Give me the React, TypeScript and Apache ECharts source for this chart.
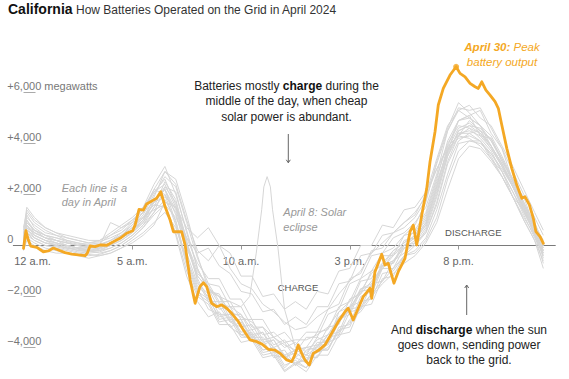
import React, { useEffect, useRef } from "react";
import * as echarts from "echarts";

const FONT = "'Liberation Sans', Arial, sans-serif";

// Axis ticks
const xTickHours = [0, 5, 10, 15, 20];
const xTickLabels = ["12 a.m.", "5 a.m.", "10 a.m.", "3 p.m.", "8 p.m."];
const yTickValues = [-4000, -2000, 0, 2000, 4000, 6000];
const yTickLabels = ["−4,000", "−2,000", "0", "+2,000", "+4,000", "+6,000 megawatts"];

// April 30 (highlighted)
const orangeHours = [
  0, 0.11, 0.22, 0.33, 0.61, 0.91, 1.14, 1.37, 1.6, 1.91,
  2.22, 2.52, 2.83, 2.93, 3.06, 3.29, 3.52, 3.83, 4.13, 4.44,
  4.74, 5.02, 5.13, 5.31, 5.51, 5.66, 5.97, 6.12, 6.31, 6.51,
  6.74, 6.89, 7.27, 7.43, 7.66, 7.89, 8.11, 8.27, 8.42, 8.65,
  8.88, 9.11, 9.34, 9.57, 9.88, 10.11, 10.41, 10.72, 10.95, 11.26,
  11.56, 11.79, 12.1, 12.33, 12.48, 12.63, 12.79, 12.94, 13.14, 13.32,
  13.55, 13.86, 14.17, 14.47, 14.78, 14.93, 15.16, 15.39, 15.62, 15.93,
  16.01, 16.16, 16.47, 16.62, 16.77, 17.03, 17.23, 17.54, 17.77, 17.92,
  18.08, 18.31, 18.54, 18.69, 18.92, 19.07, 19.3, 19.61, 19.89, 20.07,
  20.3, 20.53, 20.76, 20.91, 21.07, 21.26, 21.45, 21.68, 21.83, 21.99,
  22.22, 22.45, 22.68, 22.91, 23.06, 23.26, 23.44, 23.56, 23.75, 23.9,
];
const orangeValues = [
  -110, 580, 215, -20, -70, -245, -215, -100, -175, -280,
  -335, -370, -400, -305, -20, -45, 20, 10, 150, 280,
  480, 580, 800, 1420, 1390, 1630, 1780, 1850, 2110, 1520,
  1000, 540, 540, 20, -1350, -2265, -1615, -1460, -1615, -2265,
  -2400, -2330, -2460, -2660, -2990, -3310, -3700, -3770, -3860, -4070,
  -4100, -4230, -4490, -4555, -4290, -3900, -4230, -4490, -4685, -4230,
  -4120, -3900, -3440, -2990, -2595, -2460, -2920, -2460, -2005, -1680,
  -2070, -1025, -345, -765, -700, -1480, -1025, -500, 540, 800,
  20, 1195, 2240, 3285, 4460, 5510, 6160, 6685, 7010, 6750,
  6615, 6360, 6225, 6160, 6420, 6095, 5900, 5640, 5380, 4725,
  3810, 3025, 2370, 1850, 1910, 1590, 1065, 540, 345, 85,
];
const peakHour = 19.89;
const peakValue = 7010;

// Other April days (shared time grid)
const grayHours = [
  0, 0.15, 0.5, 1, 1.5, 2, 2.5, 3, 3.5, 4,
  4.5, 5, 5.5, 6, 6.5, 7, 7.5, 8, 8.5, 9,
  9.5, 10, 10.5, 11, 11.5, 12, 12.5, 13, 13.5, 14,
  14.5, 15, 15.5, 16, 16.5, 17, 17.5, 18, 18.5, 19,
  19.5, 20, 20.5, 21, 21.5, 22, 22.5, 23, 23.5, 23.9,
];
const dayA = [200, 1400, 1000, 700, 500, 300, 200, 100, 150, 300, 500, 900, 1500, 2400, 3100, 2000, 600, -900, -1800, -1900, -2700, -2700, -3500, -3400, -4200, -4100, -4700, -4300, -4400, -3600, -3500, -2600, -2500, -1500, -1400, -600, -300, 100, 700, 2000, 3700, 4900, 5100, 5300, 4400, 3800, 2500, 1900, 700, -200];
const dayB = [0, 500, 200, 0, -100, -200, -300, -350, -400, -300, -100, 200, 500, 900, 1300, 700, -500, -1600, -2000, -2900, -2800, -3500, -3400, -4100, -4000, -4700, -4500, -4800, -4100, -4100, -3300, -3200, -2200, -2100, -1100, -1000, -400, -200, 300, 1400, 2800, 4000, 4100, 4100, 3400, 2900, 1900, 1400, 400, -400];
const dayC = [300, 900, 600, 400, 200, 100, 0, -100, -50, 100, 300, 600, 1100, 1800, 2200, 1200, -100, -1100, -1500, -2200, -2200, -2900, -2900, -3700, -3600, -3900, -4100, -4000, -3400, -3300, -2400, -2200, -1300, -1000, -300, -100, 400, 800, 1700, 3300, 4600, 5600, 5200, 4700, 3900, 3100, 2300, 1500, 700, 0];
const dayD = [500, 1100, 800, 500, 400, 200, 100, 50, 100, 400, 700, 1000, 1300, 1700, 1900, 1500, 700, 300, 700, 0, -300, -1200, -1200, -2000, -1900, -2500, -2200, -2500, -1800, -1900, -1000, -900, 0, 0, 800, 700, 1400, 1500, 2100, 3000, 3900, 4300, 4200, 3900, 3400, 2700, 1900, 1100, 400, -300];
const dayE = [100, 700, 300, 100, 0, -100, -150, -200, -150, 0, 200, 500, 900, 1500, 2500, 1800, 200, -1400, -2200, -2200, -3000, -2900, -3600, -3600, -4000, -4400, -4200, -4500, -3800, -3800, -2900, -2700, -1800, -1700, -800, -600, -100, 200, 800, 2300, 3800, 4600, 4800, 4500, 3900, 3200, 2400, 1500, 600, -100];
const dayF = [-100, 300, 100, -100, -200, -300, -350, -400, -350, -200, 0, 300, 700, 1200, 1600, 500, -1000, -2000, -2300, -3100, -3100, -3800, -3700, -4400, -4300, -4950, -4650, -4950, -4300, -4300, -3500, -3400, -2400, -2300, -1300, -1200, -400, -300, 200, 1100, 2600, 3700, 4100, 4000, 3600, 3000, 2300, 1500, 400, -700];
const dayG = [400, 1200, 700, 400, 300, 150, 50, 0, 50, 200, 400, 700, 1200, 2000, 2700, 2300, 900, -500, -1500, -1600, -2400, -2400, -3200, -3200, -3900, -3700, -4200, -3600, -3600, -2700, -2500, -1500, -1300, -400, -300, 300, 500, 900, 1500, 2800, 4500, 5300, 5000, 4700, 4300, 3500, 2600, 1700, 800, 200];
const dayH = [200, 600, 400, 200, 100, 0, -100, -200, -300, -200, 0, 300, 700, 1300, 1800, 1000, -700, -1800, -2100, -2800, -2700, -3400, -3300, -3900, -3700, -4300, -4100, -4000, -3900, -3700, -2800, -2600, -1700, -1600, -700, -700, 0, 100, 500, 1700, 3300, 4300, 4600, 4400, 3900, 3200, 2400, 1500, 600, -300];
const dayI = [600, 1500, 1100, 700, 500, 400, 300, 200, 200, 500, 800, 1100, 1500, 2100, 2400, 1500, 300, -700, -1300, -1300, -2100, -2100, -2900, -2900, -3600, -3400, -3900, -3400, -3400, -2500, -2300, -1300, -1100, -200, -100, 500, 700, 1100, 1800, 3200, 4500, 5400, 5300, 5400, 4600, 3800, 2900, 2000, 1100, 400];
const dayJ = [0, 400, 200, 0, -50, -150, -250, -300, -250, -100, 100, 400, 800, 1500, 2000, 1300, -300, -1500, -1900, -2700, -2700, -3500, -3500, -4200, -4100, -4800, -4400, -4600, -3900, -3900, -3000, -2500, -2400, -1900, -900, -900, -100, 0, 600, 1900, 3500, 4500, 4700, 4600, 4100, 3400, 2600, 1700, 800, 0];
const dayK = [300, 800, 500, 300, 200, 100, 0, -50, 0, 900, 700, 900, 1100, 1400, 1600, 1100, 300, -300, -100, -800, -1100, -1800, -1900, -2600, -2500, -3100, -2800, -3100, -2400, -2400, -1500, -1400, -400, -300, 400, 500, 900, 1300, 1900, 3000, 3800, 4200, 4300, 4100, 3600, 2900, 2100, 1300, 500, -200];
const dayL = [100, 1000, 500, 300, 100, 0, -100, -100, -50, 100, 300, 600, 1000, 1700, 2300, 1700, 100, -1200, -1700, -2500, -2400, -3200, -3100, -3800, -3700, -4400, -4100, -4300, -3600, -3800, -2600, -2400, -1400, -1300, -400, -400, 400, 500, 1200, 2600, 4100, 4900, 5000, 4700, 4100, 3300, 2500, 1600, 700, 0];
const dayM = [200, 600, 300, 100, 50, -50, -200, -250, -200, 0, 200, 500, 1000, 1900, 2900, 2600, 1200, -400, -1700, -2000, -2900, -2900, -3700, -3700, -4400, -4300, -4700, -4100, -4000, -3200, -3100, -2100, -1900, -1000, -800, -200, 100, 400, 1000, 2400, 3700, 4400, 4500, 4300, 3800, 3100, 2300, 1400, 500, -500];
const dayN = [400, 900, 600, 400, 300, 200, 100, 0, 0, 200, 500, 800, 1300, 2200, 2000, 800, -800, -1900, -2200, -3000, -2900, -3600, -3600, -4300, -4200, -4900, -4600, -4800, -4100, -4100, -3200, -3100, -2000, -1800, -800, -700, 200, 300, 900, 2300, 3900, 4900, 5100, 4300, 4200, 3400, 2500, 1600, 700, -100];
const dayO = [0, 500, 300, 100, 0, -100, -200, -200, -100, 100, 400, 700, 1100, 1600, 1500, 400, -1200, -2200, -2800, -2600, -3200, -3000, -3600, -3400, -4000, -3800, -4400, -4000, -4100, -3500, -3400, -2400, -2200, -1600, -900, -300, 0, 400, 1100, 2500, 3700, 4400, 4400, 4100, 3500, 2700, 1900, 1000, 200, -600];
const dayP = [300, 1000, 600, 300, 200, 100, 0, -100, 0, 200, 400, 800, 1300, 2100, 2600, 1600, 100, -1000, -1600, -2300, -2400, -2700, -3300, -3200, -3600, -4000, -3800, -4200, -3700, -3500, -2800, -2500, -1700, -1500, -800, -600, 0, 300, 800, 2100, 3500, 4300, 4900, 4500, 4200, 3300, 2600, 1600, 900, 100];
const dayQ = [-200, 200, 0, -200, -300, -300, -400, -500, -400, -300, -100, 100, 400, 800, 1700, 1500, 0, -1300, -2100, -2400, -3000, -3200, -3500, -4100, -4000, -4300, -4700, -4400, -4400, -3800, -3600, -2900, -2600, -2000, -1500, -1100, -700, -400, 100, 900, 2200, 3400, 3900, 3800, 3300, 2700, 1900, 1000, 200, -900];
const dayR = [700, 1300, 900, 600, 400, 300, 200, 100, 200, 400, 600, 1000, 1400, 2200, 2900, 2400, 1000, -200, -600, 0, -900, -1500, -1700, -2300, -2600, -3000, -3300, -3200, -2800, -2500, -1900, -1400, -1000, -300, 100, 500, 900, 1200, 2000, 3400, 4700, 5300, 5500, 5000, 4700, 3900, 3100, 2200, 1300, 600];
const dayS = [100, 800, 400, 200, 0, -100, -100, -200, -200, -100, 100, 400, 800, 1300, 2300, 2100, 500, -900, -1800, -2000, -2600, -2800, -3000, -3500, -3400, -3800, -3700, -3700, -3500, -3200, -2600, -2200, -1800, -1100, -700, -200, 100, 600, 1300, 2700, 4000, 4700, 4600, 4200, 3700, 2900, 2100, 1200, 300, -300];
const dayT = [300, 700, 500, 300, 200, 0, -100, 0, -100, 100, 300, 500, 900, 1700, 2200, 900, -600, -1700, -2500, -2700, -3200, -3500, -3700, -3900, -4300, -4400, -4600, -4500, -4200, -4000, -3400, -3000, -2500, -1900, -1400, -900, -400, 0, 500, 1600, 3200, 4100, 4400, 4500, 3900, 3200, 2300, 1300, 500, -400];
const grayDays = [dayA, dayB, dayC, dayD, dayE, dayF, dayG, dayH, dayI, dayJ, dayK, dayL, dayM, dayN, dayO, dayP, dayQ, dayR, dayS, dayT];

// April 8: solar eclipse
const eclipseHours = [
  0, 0.15, 0.5, 1, 1.5, 2, 2.5, 3, 3.5, 4,
  4.5, 5, 5.5, 6, 6.5, 7, 7.5, 8, 8.5, 9,
  9.5, 10, 10.4, 10.7, 10.95, 11.05, 11.2, 11.35, 11.45, 11.7,
  12, 12.5, 13, 13.5, 14, 14.5, 15, 15.5, 16, 16.5,
  17, 17.5, 18, 18.5, 19, 19.5, 20, 20.5, 21, 21.5,
  22, 22.5, 23, 23.5, 23.9,
];
const eclipseValues = [
  200, 800, 400, 200, 100, 0, -100, -150, -100, 50,
  300, 600, 1000, 1700, 2200, 1400, 0, -1200, -1700, -2000,
  -2200, -2400, -2000, -300, 1400, 2300, 2700, 2300, 1400, -100,
  -2500, -4000, -4300, -4000, -3500, -3000, -2400, -1900, -1400, -900,
  -400, 0, 300, 900, 2200, 3600, 4500, 4700, 4400, 3800,
  3100, 2300, 1400, 500, -200,
];

function zip(hours: number[], values: number[]) {
  const n = Math.min(hours.length, values.length);
  const out: number[][] = [];
  for (let i = 0; i < n; i++) out.push([hours[i], values[i]]);
  return out;
}

const GRAY = "#d6d6d6";
const ORANGE = "#f4a824";

const Y_MIN = -5200;
const Y_MAX = 7200;
const GRID_TOP = 61.9;
const GRID_BOTTOM = 0.9;
const CHART_H = 379;

export default function App() {
  const ref = useRef<HTMLDivElement>(null);

  useEffect(() => {
    if (!ref.current) return;
    const chart = echarts.init(ref.current, undefined, { renderer: "svg" });

    // move the x axis (line, ticks, labels) from the grid bottom up to y = 0
    const plotH = CHART_H - GRID_TOP - GRID_BOTTOM;
    const zeroOffset = -((0 - Y_MIN) / (Y_MAX - Y_MIN)) * plotH;

    const graySeries: any[] = grayDays.map((d, i) => ({
      type: "line",
      name: "day" + i,
      data: zip(grayHours, d),
      showSymbol: false,
      symbol: "none",
      silent: true,
      lineStyle: { color: GRAY, width: 1 },
      z: 2,
    }));
    graySeries.push({
      type: "line",
      name: "April 8",
      data: zip(eclipseHours, eclipseValues),
      showSymbol: false,
      symbol: "none",
      silent: true,
      lineStyle: { color: GRAY, width: 1 },
      z: 2,
    });

    const option: any = {
      animation: false,
      grid: {
        left: 13.3,
        right: 13.7,
        top: GRID_TOP,
        bottom: GRID_BOTTOM,
        containLabel: false,
        outerBoundsMode: "none",
      },
      xAxis: {
        type: "value",
        min: -0.47,
        max: 24.45,
        position: "bottom",
        offset: zeroOffset,
        splitLine: { show: false },
        axisLine: { show: true, onZero: false, lineStyle: { color: "#7a7a7a", width: 1 } },
        axisTick: { show: true, length: 4, customValues: xTickHours, lineStyle: { color: "#999" } },
        axisLabel: {
          customValues: xTickHours,
          margin: 10,
          color: "#666",
          fontSize: 11,
          fontFamily: FONT,
          formatter: (v: number) => {
            const i = xTickHours.indexOf(v);
            if (i < 0) return "";
            if (i === 0) return "{first|" + xTickLabels[0] + "}";
            return xTickLabels[i];
          },
          rich: {
            first: { padding: [0, 0, 0, 18], color: "#666", fontSize: 11, fontFamily: FONT },
          },
        },
      },
      yAxis: {
        type: "value",
        min: Y_MIN,
        max: Y_MAX,
        splitLine: { show: false },
        axisLine: { show: false },
        axisTick: {
          show: true,
          inside: true,
          length: 12,
          customValues: yTickValues,
          lineStyle: { color: "#aaa" },
        },
        axisLabel: {
          customValues: yTickValues,
          align: "left",
          margin: 6,
          verticalAlign: "bottom",
          lineHeight: 14,
          color: "#777",
          fontSize: 11,
          fontFamily: FONT,
          formatter: (v: number) => {
            const i = yTickValues.indexOf(v);
            return i < 0 ? "" : yTickLabels[i];
          },
        },
      },
      series: [
        ...graySeries,
        {
          type: "line",
          name: "April 30",
          data: zip(orangeHours, orangeValues),
          showSymbol: false,
          symbol: "none",
          silent: true,
          lineStyle: { color: ORANGE, width: 2.8, join: "round", cap: "round" },
          z: 5,
        },
        {
          type: "scatter",
          data: [[peakHour, peakValue]],
          symbolSize: 6,
          itemStyle: { color: ORANGE },
          silent: true,
          z: 6,
        },
      ],
      graphic: [
        {
          type: "text",
          x: 8,
          y: 9,
          style: { text: "California", font: `bold 14px ${FONT}`, fill: "#111", verticalAlign: "middle", align: "left" },
        },
        {
          type: "text",
          x: 76,
          y: 9.7,
          style: { text: "How Batteries Operated on the Grid in April 2024", font: `12px ${FONT}`, fill: "#333", verticalAlign: "middle", align: "left" },
        },
        {
          type: "text",
          x: 286.5,
          y: 78.2,
          style: {
            text: "Batteries mostly {b|charge} during the\nmiddle of the day, when cheap\nsolar power is abundant.",
            font: `12px ${FONT}`,
            fill: "#222",
            align: "center",
            verticalAlign: "top",
            lineHeight: 15.5,
            rich: { b: { font: `bold 12px ${FONT}`, fill: "#111", lineHeight: 15.5 } },
          },
        },
        { type: "line", shape: { x1: 288.3, y1: 134, x2: 288.3, y2: 162.5 }, style: { stroke: "#666", lineWidth: 1 } },
        { type: "polyline", shape: { points: [[286.3, 159.8], [288.3, 162.8], [290.3, 159.8]] }, style: { stroke: "#666", fill: null, lineWidth: 1 } },
        {
          type: "text",
          x: 469,
          y: 322.5,
          style: {
            text: "And {b|discharge} when the sun\ngoes down, sending power\nback to the grid.",
            font: `12px ${FONT}`,
            fill: "#222",
            align: "center",
            verticalAlign: "top",
            lineHeight: 15,
            rich: { b: { font: `bold 12px ${FONT}`, fill: "#111", lineHeight: 15 } },
          },
        },
        { type: "line", shape: { x1: 466.7, y1: 285, x2: 466.7, y2: 315 }, style: { stroke: "#666", lineWidth: 1 } },
        { type: "polyline", shape: { points: [[464.7, 288], [466.7, 285], [468.7, 288]] }, style: { stroke: "#666", fill: null, lineWidth: 1 } },
        {
          type: "text",
          x: 502,
          y: 39.2,
          style: {
            text: "{b|April 30:} Peak\nbattery output",
            font: `italic 11.5px ${FONT}`,
            fill: ORANGE,
            align: "center",
            verticalAlign: "top",
            lineHeight: 15,
            rich: { b: { font: `italic bold 11.5px ${FONT}`, fill: ORANGE, lineHeight: 15 } },
          },
        },
        {
          type: "text",
          x: 61.7,
          y: 181.3,
          style: { text: "Each line is a\nday in April", font: `italic 11px ${FONT}`, fill: "#999", align: "left", verticalAlign: "top", lineHeight: 14 },
        },
        {
          type: "text",
          x: 283.3,
          y: 204.8,
          style: { text: "April 8: Solar\neclipse", font: `italic 11px ${FONT}`, fill: "#999", align: "left", verticalAlign: "top", lineHeight: 15 },
        },
        {
          type: "text",
          x: 298,
          y: 287.7,
          style: { text: "CHARGE", font: `9.5px ${FONT}`, fill: "#555", align: "center", verticalAlign: "middle" },
        },
        {
          type: "text",
          x: 473.3,
          y: 232.7,
          style: { text: "DISCHARGE", font: `9.5px ${FONT}`, fill: "#555", align: "center", verticalAlign: "middle" },
        },
      ],
    };

    chart.setOption(option);
    return () => chart.dispose();
  }, []);

  return (
    <div
      ref={ref}
      style={{ position: "fixed", left: 0, top: 0, width: 569, height: 379, background: "#fff" }}
    />
  );
}
